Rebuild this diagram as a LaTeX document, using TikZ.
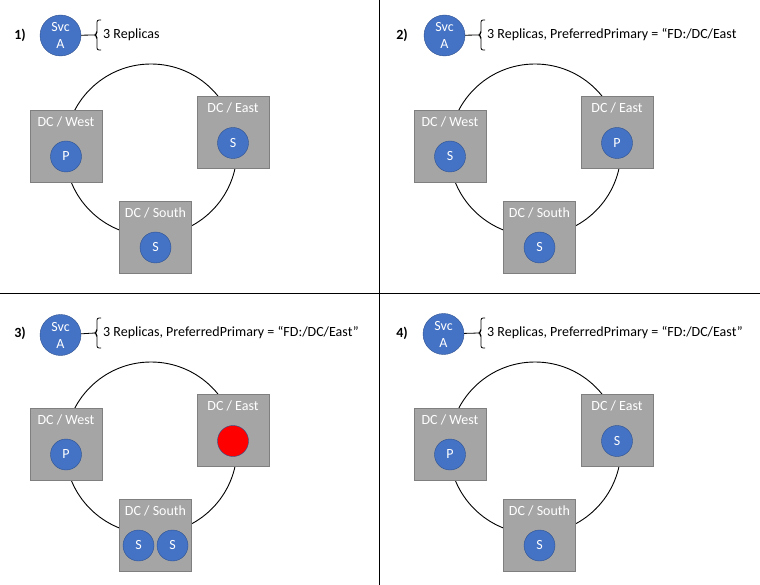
\documentclass[tikz,border=0pt]{standalone}
\usepackage{fontspec}
\setmainfont{Carlito}
\usetikzlibrary{positioning}

\definecolor{svcblue}{HTML}{4472C4}
\definecolor{svcedge}{HTML}{2F528F}
\definecolor{dcgray}{HTML}{A5A5A5}
\definecolor{dcedge}{HTML}{7F7F7F}

\newcommand{\txtfont}{\fontsize{14}{17}\selectfont}

\tikzset{
  svc/.style={circle, fill=svcblue, draw=svcedge, minimum size=41pt, inner sep=0pt,
              text=white, align=center, font=\txtfont},
  replica/.style={circle, fill=svcblue, draw=svcedge, minimum size=31pt, inner sep=0pt,
                  text=white, font=\txtfont},
  lost/.style={replica, fill=red},
  dcbox/.style={rectangle, fill=dcgray, draw=dcedge, minimum size=72pt, inner sep=0pt},
  dclabel/.style={text=white, inner sep=0pt, font=\txtfont},
  note/.style={anchor=west, inner sep=0pt, font=\txtfont},
  stepnum/.style={inner sep=0pt, font=\bfseries\txtfont},
  ring/.style={line width=0.9pt},
  brace/.style={line width=0.8pt, rounded corners=2pt},
}

\begin{document}
\begin{tikzpicture}[x=1pt, y=-1pt]
            \useasboundingbox (0,0) rectangle (760,585);

            % quadrant dividers
            \draw[line width=1pt] (379,0) -- (379,585);
            \draw[line width=1pt] (0,293) -- (760,293);

            % 1) initial placement
            \begin{scope}
            \node[stepnum] (n1) at (20,35) {1)};
            \node[svc] (svc1) at (60.5,35.5) {Svc\\A};
            \coordinate (br1) at (95,35);
            \draw[brace] (101,20) -- (97,20) -- (97,33) -- (br1) -- (97,37) -- (97,50) -- (101,50);
            \draw[line width=0.8pt] (svc1) -- (br1);
            \node[note] (t1) at (103,35) {3 Replicas};
            \draw[ring] (151,150) circle (86);
            \node[dcbox] (w1) at (66,146) {};
            \node[dcbox] (e1) at (233,132.5) {};
            \node[dcbox] (s1) at (155.5,237) {};
            \node[dclabel] (w1l) at ([yshift=-12pt]w1.north) {DC / West};
            \node[dclabel] (e1l) at ([yshift=-12pt]e1.north) {DC / East};
            \node[dclabel] (s1l) at ([yshift=-12pt]s1.north) {DC / South};
            \node[replica] (w1r) at ([yshift=-10.5pt]w1.center) {P};
            \node[replica] (e1r) at ([yshift=-10.5pt]e1.center) {S};
            \node[replica] (s1r) at ([yshift=-10.5pt]s1.center) {S};
            \end{scope}

            % 2) preferred primary set
            \begin{scope}[shift={(384,0)}]
            \node[stepnum] (n2) at (18,35) {2)};
            \node[svc] (svc2) at (60.5,35.5) {Svc\\A};
            \coordinate (br2) at (95,35);
            \draw[brace] (101,20) -- (97,20) -- (97,33) -- (br2) -- (97,37) -- (97,50) -- (101,50);
            \draw[line width=0.8pt] (svc2) -- (br2);
            \node[note] (t2) at (103,35) {3 Replicas, PreferredPrimary = “FD:/DC/East};
            \draw[ring] (151,150) circle (86);
            \node[dcbox] (w2) at (66,146) {};
            \node[dcbox] (e2) at (233,132.5) {};
            \node[dcbox] (s2) at (155.5,237) {};
            \node[dclabel] (w2l) at ([yshift=-12pt]w2.north) {DC / West};
            \node[dclabel] (e2l) at ([yshift=-12pt]e2.north) {DC / East};
            \node[dclabel] (s2l) at ([yshift=-12pt]s2.north) {DC / South};
            \node[replica] (w2r) at ([yshift=-10.5pt]w2.center) {S};
            \node[replica] (e2r) at ([yshift=-10.5pt]e2.center) {P};
            \node[replica] (s2r) at ([yshift=-10.5pt]s2.center) {S};
            \end{scope}

            % 3) east goes down
            \begin{scope}[shift={(0,298)}]
            \node[stepnum] (n3) at (20,35) {3)};
            \node[svc] (svc3) at (60.5,37) {Svc\\A};
            \coordinate (br3) at (95,35);
            \draw[brace] (101,20) -- (97,20) -- (97,33) -- (br3) -- (97,37) -- (97,50) -- (101,50);
            \draw[line width=0.8pt] (svc3) -- (br3);
            \node[note] (t3) at (103,35) {3 Replicas, PreferredPrimary = “FD:/DC/East”};
            \draw[ring] (151,150) circle (86);
            \node[dcbox] (w3) at (66,146) {};
            \node[dcbox] (e3) at (233,132.5) {};
            \node[dcbox] (s3) at (155.5,237) {};
            \node[dclabel] (w3l) at ([yshift=-12pt]w3.north) {DC / West};
            \node[dclabel] (e3l) at ([yshift=-12pt]e3.north) {DC / East};
            \node[dclabel] (s3l) at ([yshift=-12pt]s3.north) {DC / South};
            \node[replica] (w3r) at ([yshift=-10.5pt]w3.center) {P};
            \node[lost] (e3r) at ([yshift=-10.5pt]e3.center) {};
            \node[replica] (s3a) at ([xshift=-17pt,yshift=-10.5pt]s3.center) {S};
            \node[replica] (s3b) at ([xshift=17pt,yshift=-10.5pt]s3.center) {S};
            \end{scope}

            % 4) east comes back
            \begin{scope}[shift={(384,298)}]
            \node[stepnum] (n4) at (18,35) {4)};
            \node[svc] (svc4) at (59.5,36) {Svc\\A};
            \coordinate (br4) at (95,35);
            \draw[brace] (101,20) -- (97,20) -- (97,33) -- (br4) -- (97,37) -- (97,50) -- (101,50);
            \draw[line width=0.8pt] (svc4) -- (br4);
            \node[note] (t4) at (103,35) {3 Replicas, PreferredPrimary = “FD:/DC/East”};
            \draw[ring] (151,150) circle (86);
            \node[dcbox] (w4) at (66,146) {};
            \node[dcbox] (e4) at (233,132.5) {};
            \node[dcbox] (s4) at (155.5,237) {};
            \node[dclabel] (w4l) at ([yshift=-12pt]w4.north) {DC / West};
            \node[dclabel] (e4l) at ([yshift=-12pt]e4.north) {DC / East};
            \node[dclabel] (s4l) at ([yshift=-12pt]s4.north) {DC / South};
            \node[replica] (w4r) at ([yshift=-10.5pt]w4.center) {P};
            \node[replica] (e4r) at ([yshift=-10.5pt]e4.center) {S};
            \node[replica] (s4r) at ([yshift=-10.5pt]s4.center) {S};
            \end{scope}
\end{tikzpicture}
\end{document}
